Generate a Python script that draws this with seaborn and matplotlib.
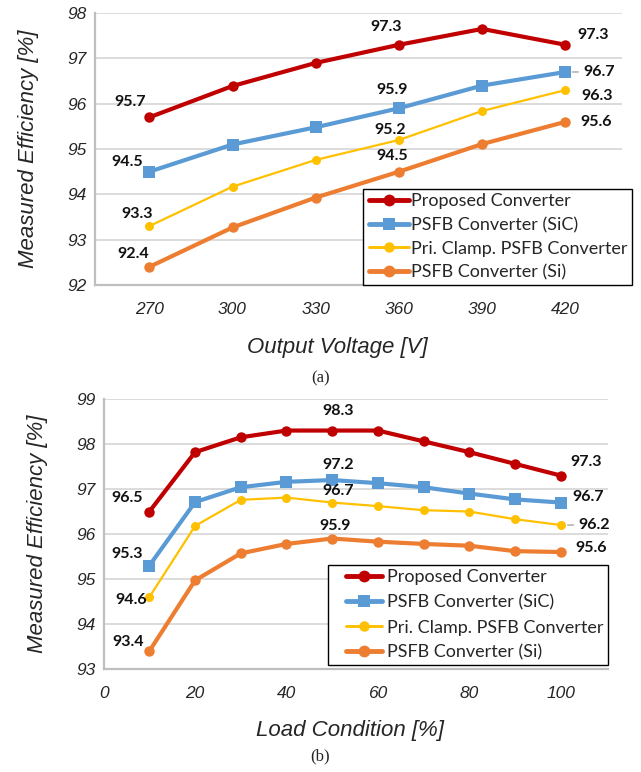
import matplotlib
matplotlib.use("Agg")
import matplotlib.pyplot as plt
from matplotlib.lines import Line2D
from matplotlib.legend_handler import HandlerLine2D
import numpy as np
import seaborn as sns
import pandas as pd

# ---- data -------------------------------------------------------------
series_names = ["Proposed Converter", "PSFB Converter (SiC)",
                "Pri. Clamp. PSFB Converter", "PSFB Converter (Si)"]

voltage = [270, 300, 330, 360, 390, 420]
eff_v_proposed = [95.7, 96.39, 96.90, 97.3, 97.65, 97.3]
eff_v_sic = [94.5, 95.10, 95.48, 95.9, 96.40, 96.7]
eff_v_clamp = [93.3, 94.17, 94.76, 95.2, 95.84, 96.3]
eff_v_si = [92.4, 93.27, 93.93, 94.5, 95.11, 95.6]

load = [10, 20, 30, 40, 50, 60, 70, 80, 90, 100]
eff_l_proposed = [96.5, 97.82, 98.15, 98.30, 98.3, 98.30, 98.06, 97.82, 97.56, 97.3]
eff_l_sic = [95.3, 96.71, 97.04, 97.16, 97.2, 97.13, 97.04, 96.90, 96.77, 96.7]
eff_l_clamp = [94.6, 96.18, 96.76, 96.81, 96.7, 96.62, 96.53, 96.50, 96.33, 96.2]
eff_l_si = [93.4, 94.97, 95.57, 95.78, 95.9, 95.83, 95.78, 95.74, 95.62, 95.6]

voltage_ticks = [270, 300, 330, 360, 390, 420]
load_ticks = [0, 20, 40, 60, 80, 100]

# ---- styling ----------------------------------------------------------
sns.set_theme(style="white")
plt.rcParams["font.family"] = ["Liberation Sans", "DejaVu Sans"]

colors = ["#C00000", "#5B9BD5", "#FFC000", "#ED7D31"]
markers = ["o", "s", "o", "o"]
lws = [3.0, 3.0, 1.6, 3.0]
msizes = [7.5, 8.0, 6.5, 7.5]
GRID = "#D9D9D9"
AXIS = "#BFBFBF"
LABEL_FONT = ["Lato", "DejaVu Sans"]
W, H = 641, 772


class TrimmedHandle(HandlerLine2D):
    """Legend line handle that starts part-way into the handle box."""

    def __init__(self, start=0.0, **kw):
        super().__init__(**kw)
        self.start = start

    def get_xdata(self, legend, xdescent, ydescent, width, height, fontsize):
        x0 = -xdescent + width * self.start
        x1 = -xdescent + width
        return np.array([x0, x1]), np.array([(x0 + x1) / 2])


def long_frame(x, ys):
    rows = []
    for name, y in zip(series_names, ys):
        for xi, yi in zip(x, y):
            rows.append({"x": xi, "eff": yi, "series": name})
    return pd.DataFrame(rows)


def draw_panel(ax, df, xlim, ylim, xticks, yticks):
    for i, name in enumerate(series_names):
        sub = df[df["series"] == name]
        sns.lineplot(data=sub, x="x", y="eff", ax=ax, color=colors[i],
                     marker=markers[i], markersize=msizes[i], linewidth=lws[i],
                     markeredgewidth=0, legend=False, zorder=3 + (3 - i) * 0.1)
    ax.set_xlim(*xlim)
    ax.set_ylim(*ylim)
    ax.set_xticks(xticks)
    ax.set_yticks(yticks)
    ax.yaxis.grid(True, color=GRID, linewidth=1.3)
    ax.xaxis.grid(False)
    for s in ("top", "right"):
        ax.spines[s].set_visible(False)
    for s in ("left", "bottom"):
        ax.spines[s].set_color(AXIS)
        ax.spines[s].set_linewidth(1.6)
    ax.tick_params(axis="both", length=0, labelsize=12.5, colors="#262626")
    ax.tick_params(axis="x", pad=12)
    ax.tick_params(axis="y", pad=6)
    for lab in ax.get_xticklabels() + ax.get_yticklabels():
        lab.set_fontstyle("italic")
    ax.set_ylabel("Measured Efficiency [%]", fontsize=16, fontstyle="italic",
                  labelpad=20)
    handles = [Line2D([0], [0], color=colors[i], marker=markers[i],
                      markersize=msizes[i] + 1, linewidth=lws[i] + 0.5,
                      markeredgewidth=0)
               for i in range(4)]
    return handles


def annotate(ax, x, y, dx, dy, leader=False):
    kw = {}
    if leader:
        kw["arrowprops"] = dict(arrowstyle="-", color="#A6A6A6", lw=1.0,
                                shrinkA=1, shrinkB=5, relpos=(0, 0.5))
    ax.annotate(f"{y:.1f}", xy=(x, y), xytext=(dx, dy),
                textcoords="offset points", ha="center", va="center",
                fontsize=11.5, fontweight="bold", family=LABEL_FONT,
                color="#111111", zorder=6, **kw)


def add_legend(ax, handles, right, top, ls, hl, htp, start):
    leg = ax.legend(handles, series_names, loc="upper right",
                    bbox_to_anchor=(right / W, 1 - top / H),
                    bbox_transform=ax.figure.transFigure,
                    frameon=True, fancybox=False, edgecolor="black",
                    framealpha=1, borderpad=0.24, labelspacing=ls,
                    handlelength=hl, handletextpad=htp, borderaxespad=0,
                    prop={"family": LABEL_FONT, "size": 13},
                    handler_map={Line2D: TrimmedHandle(start=start)})
    leg.get_frame().set_linewidth(1.0)
    leg.set_zorder(10)
    return leg


fig = plt.figure(figsize=(W / 100, H / 100), dpi=100)

# ---- (a) efficiency vs output voltage --------------------------------
ax1 = fig.add_axes([0.1477, 0.6308, 0.8226, 0.3523])
df_v = long_frame(voltage, [eff_v_proposed, eff_v_sic, eff_v_clamp, eff_v_si])
h = draw_panel(ax1, df_v, (250.3, 440.4), (92, 98), voltage_ticks,
               [92, 93, 94, 95, 96, 97, 98])
ax1.set_xlabel("Output Voltage [V]", fontsize=16, fontstyle="italic")
ax1.xaxis.set_label_coords(0.461, -0.19)

annotate(ax1, voltage[0], eff_v_proposed[0], -14, 11)
annotate(ax1, voltage[3], eff_v_proposed[3], -9, 13)
annotate(ax1, voltage[5], eff_v_proposed[5], 20, 7)
annotate(ax1, voltage[0], eff_v_sic[0], -16, 7)
annotate(ax1, voltage[3], eff_v_sic[3], -5, 13)
annotate(ax1, voltage[5], eff_v_sic[5], 24, 0, leader=True)
annotate(ax1, voltage[0], eff_v_clamp[0], -8.5, 9)
annotate(ax1, voltage[3], eff_v_clamp[3], -6.5, 7)
annotate(ax1, voltage[5], eff_v_clamp[5], 23, -4)
annotate(ax1, voltage[0], eff_v_si[0], -11.5, 9)
annotate(ax1, voltage[3], eff_v_si[3], -5, 11)
annotate(ax1, voltage[5], eff_v_si[5], 22, 0)

add_legend(ax1, h, 632, 189, 0.42, 2.3, 0.12, 0.04)
fig.text(0.5, 1 - 378 / H, "(a)", ha="center", va="center",
         family=["Liberation Serif"], fontsize=12)

# ---- (b) efficiency vs load condition --------------------------------
ax2 = fig.add_axes([0.1618, 0.1334, 0.7863, 0.3497])
df_l = long_frame(load, [eff_l_proposed, eff_l_sic, eff_l_clamp, eff_l_si])
h = draw_panel(ax2, df_l, (0, 110.3), (93, 99), load_ticks,
               [93, 94, 95, 96, 97, 98, 99])
ax2.set_xlabel("Load Condition [%]", fontsize=16, fontstyle="italic")
ax2.xaxis.set_label_coords(0.488, -0.19)

annotate(ax2, load[0], eff_l_proposed[0], -16, 9.5)
annotate(ax2, load[4], eff_l_proposed[4], 4, 14)
annotate(ax2, load[9], eff_l_proposed[9], 18, 10)
annotate(ax2, load[0], eff_l_sic[0], -16, 8)
annotate(ax2, load[4], eff_l_sic[4], 4, 11)
annotate(ax2, load[9], eff_l_sic[9], 20, 4)
annotate(ax2, load[0], eff_l_clamp[0], -13, -2)
annotate(ax2, load[4], eff_l_clamp[4], 4, 8)
annotate(ax2, load[9], eff_l_clamp[9], 24, 0, leader=True)
annotate(ax2, load[0], eff_l_si[0], -15, 6.5)
annotate(ax2, load[4], eff_l_si[4], 2, 9)
annotate(ax2, load[9], eff_l_si[9], 22, 3)

add_legend(ax2, h, 607.7, 565, 0.5, 2.76, 0.28, 0.28)
fig.text(0.5, 1 - 756 / H, "(b)", ha="center", va="center",
         family=["Liberation Serif"], fontsize=12)

fig.savefig("out.png", dpi=100)
